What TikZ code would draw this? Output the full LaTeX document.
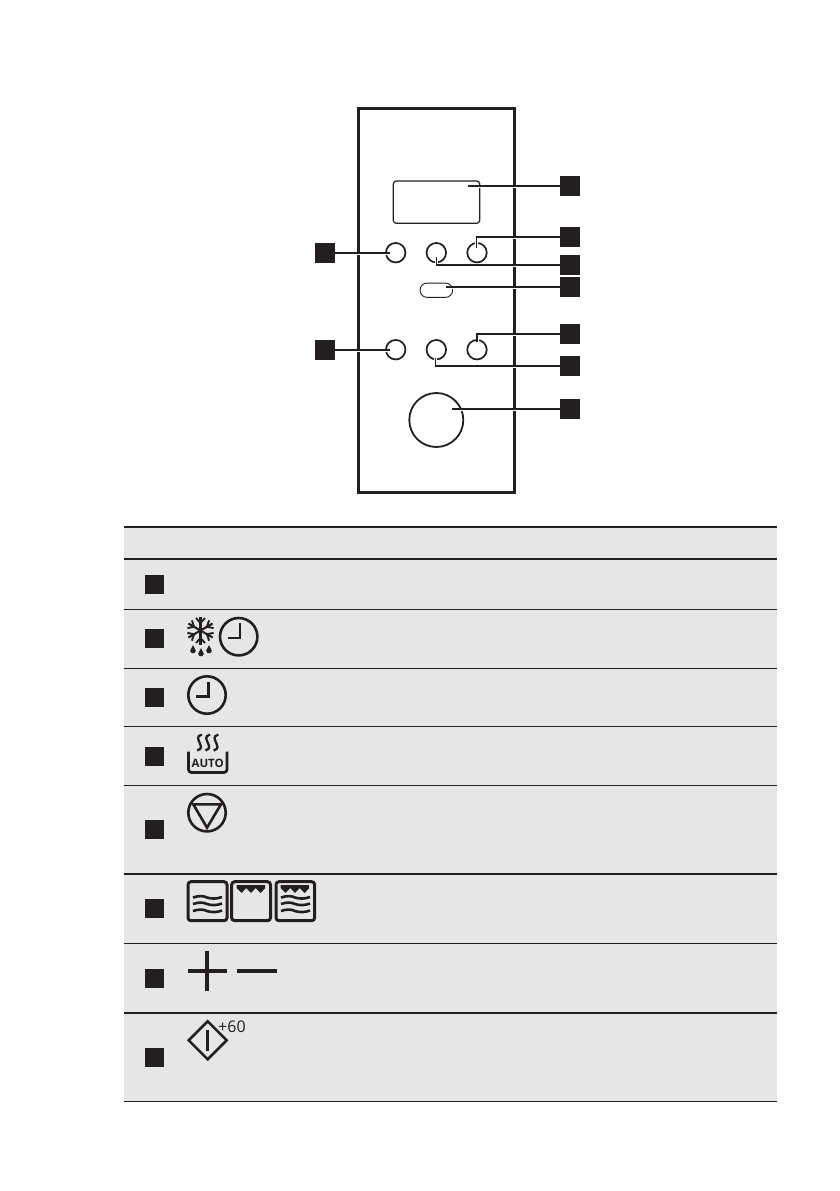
\documentclass[tikz,border=0pt]{standalone}
\usepackage{fontspec}
\setmainfont{Open Sans}
\definecolor{ink}{HTML}{231F20}
\definecolor{band}{HTML}{E6E6E6}
\tikzset{
  x=1pt,y=-1pt,
  leader/.style={draw=white,line width=3pt,postaction={draw=ink,line width=1.2pt}},
  panelline/.style={draw=ink,line width=2.8pt},
  knob/.style={circle,draw=ink,line width=1.7pt,minimum size=19.5pt,inner sep=0pt},
  callout/.style={rectangle,fill=ink,minimum size=20pt,inner sep=0pt},
  rowmark/.style={rectangle,fill=ink,minimum size=19pt,inner sep=0pt},
  rulethin/.style={draw=ink,line width=1pt},
  rulethick/.style={draw=ink,line width=1.8pt},
  icon/.style={draw=ink,line width=2.6pt,fill=none},
  iconbox/.style={draw=ink,line width=3pt,fill=none,rounded corners=3pt},
}
\begin{document}
\begin{tikzpicture}
\useasboundingbox (0,0) rectangle (839,1191);
% table bands
\fill[band] (124,527) rectangle (777,1101);
\foreach \yy in {609.3,668,726.3,785.3,943.3,1101}{\draw[rulethin] (124,\yy) -- (777,\yy);}
\foreach \yy in {527,559,873.7,1013}{\draw[rulethick] (124,\yy) -- (777,\yy);}
% panel
\draw[panelline] (358.5,108.5) rectangle (514.5,492.5);
% controls
\draw[draw=ink,line width=1.2pt,rounded corners=3pt] (393.3,181) rectangle (479.7,223.3);
\node[knob] (a1) at (395.7,252.7) {};
\node[knob] (a2) at (436.3,252.7) {};
\node[knob] (a3) at (477,252.7) {};
\node[knob] (b1) at (395.7,349.7) {};
\node[knob] (b2) at (436.3,349.7) {};
\node[knob] (b3) at (477,349.7) {};
\node[draw=ink,line width=0.9pt,rectangle,rounded corners=7pt,minimum width=32.5pt,minimum height=14.3pt,inner sep=0pt] (pill) at (436.3,290.2) {};
\node[circle,draw=ink,line width=1.8pt,minimum size=54pt,inner sep=0pt] (dial) at (436.3,420) {};
% callouts
\node[callout] (c1) at (570,186) {};
\node[callout] (c2) at (570,237) {};
\node[callout] (c3) at (570,265) {};
\node[callout] (c4) at (570,287) {};
\node[callout] (c5) at (570,334) {};
\node[callout] (c6) at (570,366) {};
\node[callout] (c7) at (570,409) {};
\node[callout] (l1) at (325,253) {};
\node[callout] (l2) at (325,350) {};
\coordinate (e1) at (468,186);
\coordinate (e2) at (476.3,248);
\coordinate (e3) at (436.3,257);
\coordinate (e4) at (445.7,287);
\coordinate (e5) at (477,342);
\coordinate (e6) at (435.3,358);
\coordinate (e7) at (451.7,409);
\coordinate (e8) at (390,253);
\coordinate (e9) at (390,350);
\path[leader] (c1.west) -- (e1);
\path[leader] (c2.west) -| (e2);
\path[leader] (c3.west) -| (e3);
\path[leader] (c4.west) -- (e4);
\path[leader] (c5.west) -| (e5);
\path[leader] (c6.west) -| (e6);
\path[leader] (c7.west) -- (e7);
\path[leader] (l1.east) -- (e8);
\path[leader] (l2.east) -- (e9);
% row marks
\foreach \yy/\nn in {584.5/r1,638.5/r2,697.5/r3,756.5/r4,829.5/r5,908.5/r6,978.5/r7,1057.5/r8}{
  \node[rowmark] (\nn) at (154,\yy) {};
}
% snowflake
\begin{scope}[shift={(200.5,630.5)}]
  \foreach \ang in {90,30,150}{
    \draw[icon,line width=2.1pt,rotate=\ang] (-14,0) -- (14,0);
    \draw[icon,line width=1.9pt,rotate=\ang] (12.5,-4.5) -- (7.5,0) -- (12.5,4.5);
    \draw[icon,line width=1.9pt,rotate=\ang] (-12.5,-4.5) -- (-7.5,0) -- (-12.5,4.5);
  }
\end{scope}
\foreach \dx/\dy in {193/650,201/653,209/650}{
  \fill[ink] (\dx,\dy-4.8) .. controls (\dx+0.8,\dy-2) and (\dx+2.8,\dy-1) .. (\dx+2.8,\dy+0.7) .. controls (\dx+2.8,\dy+4.1) and (\dx-2.8,\dy+4.1) .. (\dx-2.8,\dy+0.7) .. controls (\dx-2.8,\dy-1) and (\dx-0.8,\dy-2) .. (\dx,\dy-4.8) -- cycle;
}
% clocks
\draw[icon] (238.7,636.7) circle[radius=18.7];
\draw[icon] (240,623) -- (240,638) -- (228,638);
\draw[icon] (207,695) circle[radius=18.7];
\draw[icon] (208.7,681.7) -- (208.7,696.7) -- (196,696.7);
% auto
\draw[iconbox,line width=2.7pt,rounded corners=3pt] (188.5,751.5) -- (188.5,772.5) -- (227,772.5) -- (227,751.5);
\node[inner sep=0pt,font=\bfseries\fontsize{11.5}{11.5}\selectfont,text=ink] (autot) at (207.7,763) {AUTO};
\foreach \sx in {199.5,207.7,216}{
  \draw[icon,line width=2.3pt] (\sx+2.3,734.5) .. controls (\sx-3.5,736.5) and (\sx-1.2,739) .. (\sx,742.5) .. controls (\sx+1.2,746) and (\sx+3.5,748.5) .. (\sx-2.3,750.5);
}
% triangle button
\draw[icon] (207,812.7) circle[radius=18.7];
\draw[icon] (193.3,804.3) -- (221,804.3) -- (207,827.7) -- cycle;
% mode boxes
\foreach \bx/\ex in {188/227,231.7/270.5,276/314.7}{\draw[iconbox] (\bx,881.7) rectangle (\ex,920.7);}
\foreach \ox/\wy in {188/897.5,188/904,188/911,276/897.5,276/904,276/911}{
  \draw[icon] (\ox+5,\wy) .. controls (\ox+11,\wy-2.2) and (\ox+16,\wy-1.5) .. (\ox+19,\wy) .. controls (\ox+23,\wy+1.5) and (\ox+29,\wy+1.5) .. (\ox+34,\wy-0.5);
}
\foreach \ox in {236.7,280.7}{
  \fill[ink] (\ox,885) -- (\ox+28.5,885) -- (\ox+28.5,888) -- (\ox+24,893) -- (\ox+19,888) -- (\ox+14.3,893) -- (\ox+9.5,888) -- (\ox+4.8,893) -- (\ox,888) -- cycle;
}
% plus minus
\draw[icon,line width=4.1pt] (187.5,970.7) -- (227,970.7);
\draw[icon,line width=4.1pt] (207,950.7) -- (207,990.7);
\draw[icon,line width=4.1pt] (236.7,970.7) -- (276.7,970.7);
% start
\draw[icon] (188.7,1040.3) -- (207.7,1021.3) -- (226.7,1040.3) -- (207.7,1059.3) -- cycle;
\draw[icon,line width=2.8pt] (207.7,1030) -- (207.7,1050.7);
\node[anchor=west,inner sep=0pt,font=\fontsize{16}{16}\selectfont,text=ink] (plus) at (218,1026.7) {+60};
\end{tikzpicture}
\end{document}
